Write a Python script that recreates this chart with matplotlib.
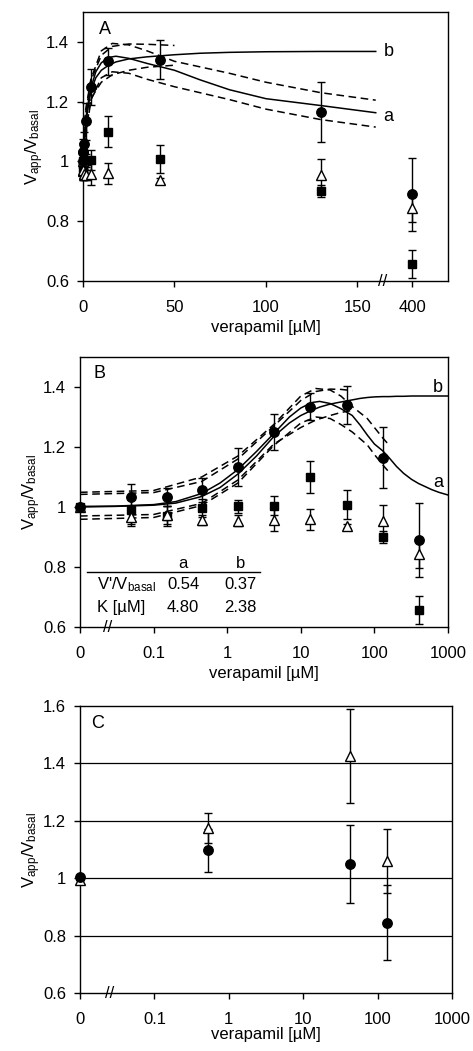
import matplotlib
matplotlib.use('Agg')
import matplotlib.pyplot as plt
import matplotlib.transforms as mtransforms
from matplotlib.ticker import NullLocator

plt.rcParams['font.family'] = ['Liberation Sans', 'DejaVu Sans']
plt.rcParams['mathtext.default'] = 'regular'

# measured data (verapamil in uM)
conc = [0, 0.05, 0.15, 0.45, 1.4, 4.3, 13.5, 42, 130, 400]
circ = [1.00, 1.032, 1.032, 1.057, 1.134, 1.25, 1.335, 1.34, 1.165, 0.89]
circ_err = [0.0, 0.044, 0.03, 0.04, 0.063, 0.06, 0.045, 0.065, 0.10, 0.123]
sq = [1.00, 0.99, 0.97, 0.996, 1.003, 1.005, 1.10, 1.008, 0.90, 0.657]
sq_err = [0.0, 0.045, 0.033, 0.03, 0.022, 0.033, 0.053, 0.048, 0.02, 0.047]
tri = [1.00, 0.967, 0.972, 0.957, 0.955, 0.958, 0.96, 0.937, 0.953, 0.843]
tri_err = [0.0, 0.03, 0.03, 0.018, 0.018, 0.037, 0.035, 0.008, 0.055, 0.045]

# fitted curves
fit_x = [0.01, 0.03, 0.1, 0.2, 0.45, 0.8, 1.4, 2.5, 4.3, 7, 10, 14, 18, 25,
         35, 50, 64, 80, 100, 130, 160, 200, 250, 320, 400, 500, 600, 750,
         1000]
fit_a = [1.002, 1.003, 1.008, 1.018, 1.045, 1.08, 1.125, 1.185, 1.245, 1.30,
         1.33, 1.348, 1.352, 1.345, 1.328, 1.305, 1.273, 1.24, 1.21, 1.187,
         1.163, 1.135, 1.112, 1.092, 1.078, 1.067, 1.058, 1.049, 1.04]
fit_b = [1.0, 1.002, 1.006, 1.013, 1.035, 1.065, 1.11, 1.17, 1.235, 1.28,
         1.305, 1.322, 1.333, 1.343, 1.35, 1.357, 1.362, 1.365, 1.367, 1.368,
         1.368, 1.369, 1.369, 1.37, 1.37, 1.37, 1.37, 1.37, 1.37]

band_a_x = [0.01, 0.1, 0.45, 1.4, 4.3, 10, 16, 25, 35, 50, 80, 100, 130, 160]
band_a_hi = [1.049, 1.055, 1.10, 1.17, 1.275, 1.37, 1.395, 1.39, 1.37, 1.335,
             1.295, 1.265, 1.23, 1.205]
band_a_lo = [0.959, 0.965, 1.005, 1.08, 1.205, 1.28, 1.30, 1.295, 1.275, 1.25,
             1.207, 1.175, 1.14, 1.115]
band_b_x = [0.01, 0.1, 0.45, 1.4, 4.3, 10, 16, 25, 35, 50]
band_b_hi = [1.042, 1.048, 1.085, 1.16, 1.27, 1.355, 1.385, 1.393, 1.392, 1.388]
band_b_lo = [0.97, 0.975, 1.012, 1.09, 1.21, 1.265, 1.29, 1.305, 1.315, 1.322]

# panel C
conc_c = [0, 0.53, 43, 134]
circ_c = [1.003, 1.098, 1.049, 0.845]
circ_c_err = [0.0, 0.075, 0.135, 0.13]
tri_c = [0.995, 1.176, 1.426, 1.06]
tri_c_err = [0.0, 0.052, 0.165, 0.11]

FS = 12
ylab = 'V$_{app}$/V$_{basal}$'
dash = (0, (5, 3))
LW = 1.1


def draw_points(ax, x, y_c, e_c, y_s, e_s, y_t, e_t):
    kw = dict(ls='none', ecolor='black', elinewidth=1.0, capsize=2.8,
              capthick=1.0, clip_on=False, zorder=5)
    if y_s is not None:
        ax.errorbar(x, y_s, yerr=e_s, marker='s', ms=6, mfc='black',
                    mec='black', **kw)
    ax.errorbar(x, y_t, yerr=e_t, marker='^', ms=7, mfc='white',
                mec='black', mew=1.0, **kw)
    ax.errorbar(x, y_c, yerr=e_c, marker='o', ms=6.8, mfc='black',
                mec='black', **kw)


def style(ax, yticks, ylabels, xlabpad=3):
    ax.set_yticks(yticks)
    ax.set_yticklabels(ylabels)
    ax.tick_params(direction='out', length=4, width=1.0, labelsize=FS)
    ax.tick_params(axis='x', pad=10)
    ax.tick_params(axis='y', pad=6)
    for s in ax.spines.values():
        s.set_linewidth(1.0)
    ax.set_ylabel(ylab, fontsize=FS, labelpad=0)
    ax.set_xlabel('verapamil [µM]', fontsize=FS, labelpad=xlabpad)


def break_mark(ax, xpos):
    tr = mtransforms.blended_transform_factory(ax.transData, ax.transAxes)
    ax.text(xpos, 0, '//', transform=tr, ha='center', va='center',
            fontsize=12, clip_on=False, zorder=6)


fig = plt.figure(figsize=(4.73, 10.51), dpi=100)

# ---------- panel A (linear, broken axis) ----------
axA = fig.add_axes([83 / 473, 1 - 281 / 1051, 365 / 473, 269 / 1051])
xa = [v if v <= 160 else 180 for v in conc]
sel = [i for i, v in enumerate(fit_x) if v <= 160]
axA.plot([fit_x[i] for i in sel], [fit_a[i] for i in sel], color='black', lw=LW)
axA.plot([fit_x[i] for i in sel], [fit_b[i] for i in sel], color='black', lw=LW)
axA.plot(band_a_x, band_a_hi, color='black', lw=LW, ls=dash)
axA.plot(band_a_x, band_a_lo, color='black', lw=LW, ls=dash)
axA.plot(band_b_x, band_b_hi, color='black', lw=LW, ls=dash)
axA.plot(band_b_x, band_b_lo, color='black', lw=LW, ls=dash)
draw_points(axA, xa, circ, circ_err, sq, sq_err, tri, tri_err)
axA.set_xlim(0, 199.5)
axA.set_ylim(0.6, 1.5)
axA.set_xticks([0, 50, 100, 150, 180])
axA.set_xticklabels(['0', '50', '100', '150', '400'])
style(axA, [0.6, 0.8, 1.0, 1.2, 1.4], ['0.6', '0.8', '1', '1.2', '1.4'])
break_mark(axA, 164)
axA.text(0.06, 0.935, 'A', transform=axA.transAxes, fontsize=FS + 1,
         ha='center', va='center')
axA.text(167, 1.367, 'b', fontsize=FS + 1, ha='center', va='center')
axA.text(167, 1.15, 'a', fontsize=FS + 1, ha='center', va='center')

# ---------- panel B (log) ----------
axB = fig.add_axes([80 / 473, 1 - 627 / 1051, 368 / 473, 270 / 1051])
xb = [v if v > 0 else 0.01 for v in conc]
axB.plot(fit_x, fit_a, color='black', lw=LW)
axB.plot(fit_x, fit_b, color='black', lw=LW)
axB.plot(band_a_x, band_a_hi, color='black', lw=LW, ls=dash)
axB.plot(band_a_x, band_a_lo, color='black', lw=LW, ls=dash)
axB.plot(band_b_x, band_b_hi, color='black', lw=LW, ls=dash)
axB.plot(band_b_x, band_b_lo, color='black', lw=LW, ls=dash)
draw_points(axB, xb, circ, circ_err, sq, sq_err, tri, tri_err)
axB.set_xscale('log')
axB.set_xlim(0.01, 1000)
axB.set_ylim(0.6, 1.5)
axB.set_xticks([0.01, 0.1, 1, 10, 100, 1000])
axB.set_xticklabels(['0', '0.1', '1', '10', '100', '1000'])
axB.xaxis.set_minor_locator(NullLocator())
style(axB, [0.6, 0.8, 1.0, 1.2, 1.4], ['0.6', '0.8', '1', '1.2', '1.4'])
break_mark(axB, 0.024)
axB.text(0.054, 0.94, 'B', transform=axB.transAxes, fontsize=FS + 1,
         ha='center', va='center')
axB.text(730, 1.40, 'b', fontsize=FS + 1, ha='center', va='center')
axB.text(730, 1.083, 'a', fontsize=FS + 1, ha='center', va='center')
# parameter table
axB.plot([0.02, 0.49], [0.204, 0.204], color='black', lw=1,
         transform=axB.transAxes)
axB.text(0.28, 0.237, 'a', transform=axB.transAxes, fontsize=FS,
         ha='center', va='center')
axB.text(0.435, 0.237, 'b', transform=axB.transAxes, fontsize=FS,
         ha='center', va='center')
axB.text(0.046, 0.156, "V'/V$_{basal}$", transform=axB.transAxes,
         fontsize=FS, ha='left', va='center')
axB.text(0.046, 0.074, 'K [µM]', transform=axB.transAxes, fontsize=FS,
         ha='left', va='center')
for xv, r1, r2 in [(0.28, '0.54', '4.80'), (0.435, '0.37', '2.38')]:
    axB.text(xv, 0.156, r1, transform=axB.transAxes, fontsize=FS,
             ha='center', va='center')
    axB.text(xv, 0.074, r2, transform=axB.transAxes, fontsize=FS,
             ha='center', va='center')

# ---------- panel C ----------
axC = fig.add_axes([80 / 473, 1 - 993 / 1051, 372 / 473, 287 / 1051])
xc = [v if v > 0 else 0.01 for v in conc_c]
for yv in [0.8, 1.0, 1.2, 1.4]:
    axC.axhline(yv, color='black', lw=0.9, zorder=1)
draw_points(axC, xc, circ_c, circ_c_err, None, None, tri_c, tri_c_err)
axC.set_xscale('log')
axC.set_xlim(0.01, 1000)
axC.set_ylim(0.6, 1.6)
axC.set_xticks([0.01, 0.1, 1, 10, 100, 1000])
axC.set_xticklabels(['0', '0.1', '1', '10', '100', '1000'])
axC.xaxis.set_minor_locator(NullLocator())
style(axC, [0.6, 0.8, 1.0, 1.2, 1.4, 1.6],
      ['0.6', '0.8', '1', '1.2', '1.4', '1.6'], xlabpad=0)
break_mark(axC, 0.025)
axC.text(0.046, 0.94, 'C', transform=axC.transAxes, fontsize=FS + 1,
         ha='center', va='center')

fig.savefig('out.png', dpi=100)
